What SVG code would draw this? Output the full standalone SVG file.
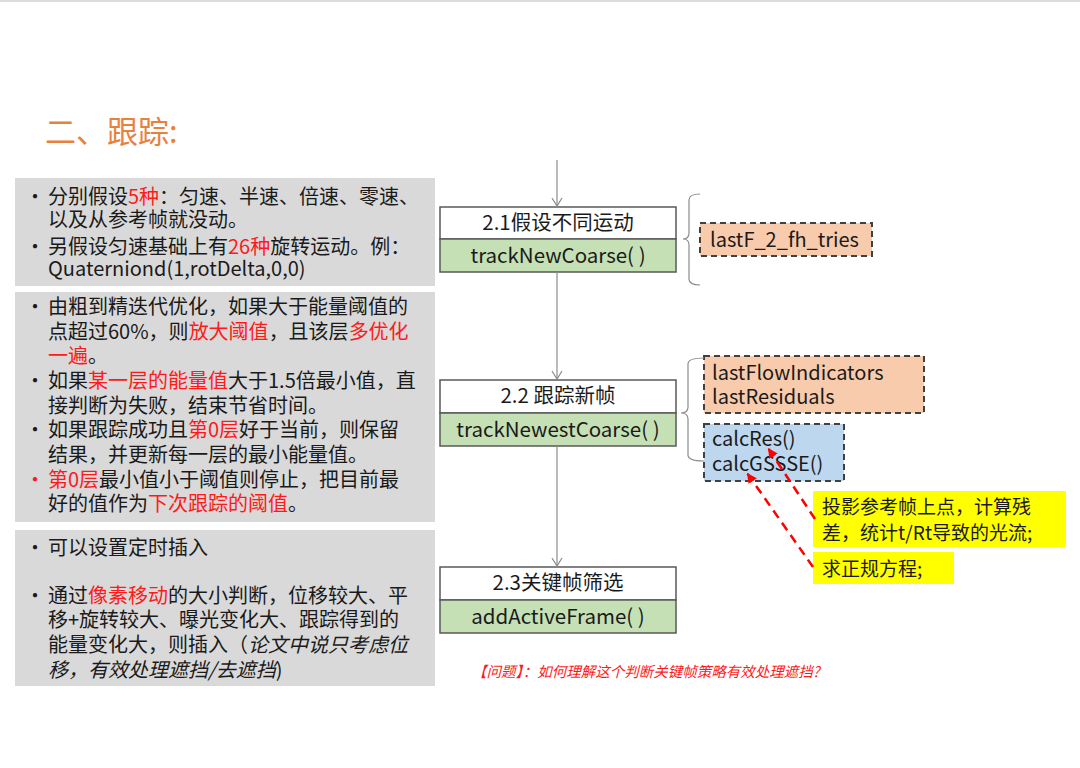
<svg xmlns="http://www.w3.org/2000/svg" width="1080" height="768" viewBox="0 0 1080 768">
<defs>
<style>
text{font-family:"Noto Sans CJK SC","Noto Sans",sans-serif;fill:#1a1a1a}
.t{font-size:20px}
.r{fill:#ff1a1a}
.i{font-style:italic}
.panel{fill:#d9d9d9}
.nodeTop{fill:#ffffff;stroke:#595959;stroke-width:1.5}
.nodeBot{fill:#c5e0b4;stroke:#595959;stroke-width:1.5}
.nt{font-size:20.5px;text-anchor:middle}
.conn{stroke:#8c8c8c;stroke-width:1.2;fill:none}
.brace{stroke:#8c8c8c;stroke-width:1.2;fill:none}
.peach{fill:#f8cbad;stroke:#404040;stroke-width:2;stroke-dasharray:6,4}
.blue{fill:#bdd7ee;stroke:#404040;stroke-width:2;stroke-dasharray:6,4}
.yel{fill:#ffff00}
.red{stroke:#ff0000;stroke-width:2.5;stroke-dasharray:9,6;fill:none}
.bt{font-size:20px}
.yt{font-size:19px}
</style>
<marker id="ah" markerWidth="12" markerHeight="12" refX="9" refY="6" orient="auto" markerUnits="userSpaceOnUse">
<path d="M1,1 L9,6 L1,11" fill="none" stroke="#8c8c8c" stroke-width="1.2"/>
</marker>
<marker id="rah" markerWidth="12" markerHeight="12" refX="10" refY="6" orient="auto" markerUnits="userSpaceOnUse">
<path d="M0,1 L10,6 L0,11 Z" fill="#ff0000"/>
</marker>
</defs>
<rect x="0" y="0" width="1080" height="768" fill="#ffffff"/>
<rect x="0" y="0" width="1080" height="2" fill="#dcdcdc"/>

<text x="45" y="143" style="font-size:31px;fill:#e8803e">二、跟踪:</text>

<g id="panel1">
<rect class="panel" x="15" y="178" width="420" height="108"/>
<text class="t" x="25" y="204">•</text>
<text class="t" x="48" y="204">分别假设<tspan class="r">5种</tspan>：匀速、半速、倍速、零速、</text>
<text class="t" x="48" y="227">以及从参考帧就没动。</text>
<text class="t" x="25" y="254">•</text>
<text class="t" x="48" y="254">另假设匀速基础上有<tspan class="r">26种</tspan>旋转运动。例：</text>
<text class="t" x="48" y="276">Quaterniond(1,rotDelta,0,0)</text>
</g>

<g id="panel2">
<rect class="panel" x="15" y="292" width="420" height="230"/>
<text class="t" x="25" y="314">•</text>
<text class="t" x="48" y="314">由粗到精迭代优化，如果大于能量阈值的</text>
<text class="t" x="48" y="339">点超过60%，则<tspan class="r">放大阈值</tspan>，且该层<tspan class="r">多优化</tspan></text>
<text class="t" x="48" y="363"><tspan class="r">一遍</tspan>。</text>
<text class="t" x="25" y="388">•</text>
<text class="t" x="48" y="388">如果<tspan class="r">某一层的能量值</tspan>大于1.5倍最小值，直</text>
<text class="t" x="48" y="413">接判断为失败，结束节省时间。</text>
<text class="t" x="25" y="437">•</text>
<text class="t" x="48" y="437">如果跟踪成功且<tspan class="r">第0层</tspan>好于当前，则保留</text>
<text class="t" x="48" y="462">结果，并更新每一层的最小能量值。</text>
<text class="t r" x="25" y="487">•</text>
<text class="t" x="48" y="487"><tspan class="r">第0层</tspan>最小值小于阈值则停止，把目前最</text>
<text class="t" x="48" y="511">好的值作为<tspan class="r">下次跟踪的阈值</tspan>。</text>
</g>

<g id="panel3">
<rect class="panel" x="15" y="530" width="420" height="156"/>
<text class="t" x="25" y="555">•</text>
<text class="t" x="48" y="555">可以设置定时插入</text>
<text class="t" x="25" y="603">•</text>
<text class="t" x="48" y="603">通过<tspan class="r">像素移动</tspan>的大小判断，位移较大、平</text>
<text class="t" x="48" y="627">移+旋转较大、曝光变化大、跟踪得到的</text>
<text class="t" x="48" y="652">能量变化大，则插入（<tspan class="i">论文中说只考虑位</tspan></text>
<text class="t" x="48" y="677"><tspan class="i">移，有效处理遮挡/去遮挡</tspan>)</text>
</g>

<g id="node21">
<rect class="nodeTop" x="440" y="207" width="236" height="32"/>
<rect class="nodeBot" x="440" y="239" width="236" height="33"/>
<text class="nt" x="558" y="230">2.1假设不同运动</text>
<text class="nt" x="558" y="263">trackNewCoarse( )</text>
</g>

<g id="node22">
<rect class="nodeTop" x="440" y="380" width="236" height="33"/>
<rect class="nodeBot" x="440" y="413" width="236" height="33"/>
<text class="nt" x="558" y="403">2.2 跟踪新帧</text>
<text class="nt" x="558" y="437">trackNewestCoarse( )</text>
</g>

<g id="node23">
<rect class="nodeTop" x="440" y="567" width="236" height="33"/>
<rect class="nodeBot" x="440" y="600" width="236" height="33"/>
<text class="nt" x="558" y="590">2.3关键帧筛选</text>
<text class="nt" x="558" y="624">addActiveFrame( )</text>
</g>

<g id="var1">
<rect class="peach" x="700" y="223" width="172" height="33"/>
<text class="bt" x="710" y="247">lastF_2_fh_tries</text>
</g>

<g id="var2">
<rect class="peach" x="704" y="356" width="220" height="57"/>
<text class="bt" x="712" y="380">lastFlowIndicators</text>
<text class="bt" x="712" y="404">lastResiduals</text>
</g>

<g id="funcs">
<rect class="blue" x="704" y="424" width="140" height="57"/>
<text class="bt" x="712" y="446">calcRes()</text>
<text class="bt" x="712" y="471">calcGSSSE()</text>
</g>

<g id="note1">
<rect class="yel" x="813" y="491" width="253" height="56"/>
<text class="yt" x="822" y="514">投影参考帧上点，计算残</text>
<text class="yt" x="822" y="540">差，统计t/Rt导致的光流;</text>
</g>

<g id="note2">
<rect class="yel" x="813" y="552" width="141" height="32"/>
<text class="yt" x="822" y="576">求正规方程;</text>
</g>

<g id="connectors">
<line class="conn" x1="557" y1="160" x2="557" y2="206" marker-end="url(#ah)"/>
<line class="conn" x1="557" y1="272" x2="557" y2="379" marker-end="url(#ah)"/>
<line class="conn" x1="557" y1="446" x2="557" y2="566" marker-end="url(#ah)"/>
<path class="brace" d="M700,194 Q689,194 689,200 L689,233 Q689,239 683,239 Q689,239 689,245 L689,279 Q689,285 700,285"/>
<path class="brace" d="M704,358 Q688,358 688,364 L688,407 Q688,413 681,413 Q688,413 688,419 L688,455 Q688,461 704,461"/>
<line class="red" x1="815" y1="519" x2="768" y2="448" marker-end="url(#rah)"/>
<line class="red" x1="813" y1="567" x2="747" y2="473" marker-end="url(#rah)"/>
</g>

<text x="472" y="677" class="i" style="font-size:14.5px;fill:#ff1a1a">【问题】：如何理解这个判断关键帧策略有效处理遮挡?</text>
</svg>
